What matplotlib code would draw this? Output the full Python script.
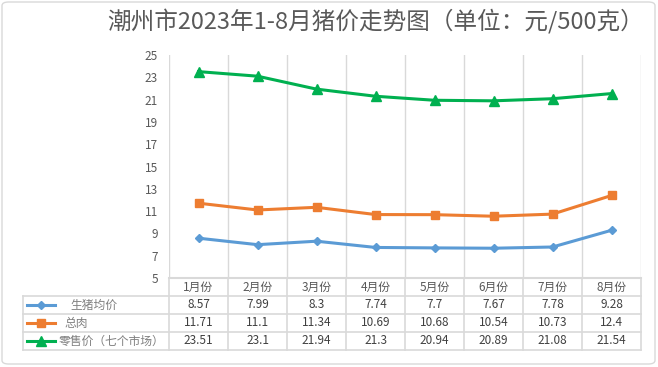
import numpy as np
import matplotlib
matplotlib.use("Agg")
import matplotlib.pyplot as plt
from matplotlib.lines import Line2D
from matplotlib.patches import FancyBboxPatch

plt.rcParams['font.family'] = ['Noto Sans CJK SC', 'DejaVu Sans']

# data
months = ["1月份", "2月份", "3月份", "4月份", "5月份", "6月份", "7月份", "8月份"]
live_pig = [8.57, 7.99, 8.3, 7.74, 7.7, 7.67, 7.78, 9.28]
pork = [11.71, 11.1, 11.34, 10.69, 10.68, 10.54, 10.73, 12.4]
retail = [23.51, 23.1, 21.94, 21.3, 20.94, 20.89, 21.08, 21.54]
series_names = ["生猪均价", "总肉", "零售价（七个市场）"]
title = "潮州市2023年1-8月猪价走势图（单位：元/500克）"

W, H = 658, 367
fig = plt.figure(figsize=(W / 100, H / 100), dpi=100)

# pixel helpers (top-left origin)
def fx(px):
    return px / W

def fy(py):
    return 1 - py / H

# plot area
left, right, top, bottom = 169, 641, 55, 278
ax = fig.add_axes([fx(left), fy(bottom), fx(right) - fx(left), fy(top) - fy(bottom)])

x = np.arange(len(months))
colors = ["#5B9BD5", "#ED7D31", "#00B050"]
markers = ["D", "s", "^"]
msizes = [4.5, 6, 7]
for vals, c, m, ms in zip([live_pig, pork, retail], colors, markers, msizes):
    ax.plot(x, vals, color=c, lw=2.2, marker=m, ms=ms, zorder=3)

ax.set_xlim(-0.5, len(months) - 0.5)
ax.set_ylim(5, 25)
ax.set_yticks(range(5, 26, 2))
ax.set_xticks([])
for xb in np.arange(-0.5, len(months), 1):
    ax.axvline(xb, color="#D9D9D9", lw=1, zorder=1)
for s in ["top", "right", "left"]:
    ax.spines[s].set_visible(False)
ax.spines["bottom"].set_color("#D9D9D9")
ax.spines["bottom"].set_linewidth(1.5)
ax.tick_params(axis="y", length=0, labelsize=8.5, labelcolor="#595959", pad=8)

fig.text(fx(644), fy(22), title, ha="right", va="center", fontsize=17,
         color="#595959")

# data table
grid_c = "#D9D9D9"
rows_y = [278, 296, 314, 332, 350]
col_x = [left + (right - left) / len(months) * i for i in range(len(months) + 1)]
tab_left = 23

def hline(py, x0, x1):
    fig.add_artist(Line2D([fx(x0), fx(x1)], [fy(py), fy(py)], color=grid_c, lw=1.2))

def vline(px, y0, y1):
    fig.add_artist(Line2D([fx(px), fx(px)], [fy(y0), fy(y1)], color=grid_c, lw=1.2))

for ry in rows_y[1:]:
    hline(ry, tab_left, right)
for cx in col_x:
    vline(cx, rows_y[0], rows_y[-1])
vline(tab_left, rows_y[1], rows_y[-1])

for i, mname in enumerate(months):
    cx = (col_x[i] + col_x[i + 1]) / 2
    fig.text(fx(cx), fy((rows_y[0] + rows_y[1]) / 2), mname, ha="center", va="center",
             fontsize=8.5, color="#595959")

label_x = [94, 76, 111]
for r, (vals, name, c, m, ms) in enumerate(zip([live_pig, pork, retail], series_names,
                                                colors, markers, msizes)):
    ry = (rows_y[r + 1] + rows_y[r + 2]) / 2
    for i, v in enumerate(vals):
        cx = (col_x[i] + col_x[i + 1]) / 2
        fig.text(fx(cx), fy(ry), f"{v:g}", ha="center", va="center",
                 fontsize=8.5, color="#404040")
    fig.add_artist(Line2D([fx(27), fx(55)], [fy(ry), fy(ry)], color=c, lw=2.2))
    fig.add_artist(Line2D([fx(41)], [fy(ry)], color=c, marker=m, ms=ms))
    fig.text(fx(label_x[r]), fy(ry), name, ha="center", va="center",
             fontsize=8.5, color="#7F7F7F")

# outer frame
fig.add_artist(FancyBboxPatch((fx(2), fy(364)), fx(653), fy(2) - fy(364),
                              boxstyle="round,pad=0,rounding_size=0.01",
                              transform=fig.transFigure, fill=False,
                              edgecolor="#D9D9D9", lw=1))

fig.savefig("out.png", dpi=100)
